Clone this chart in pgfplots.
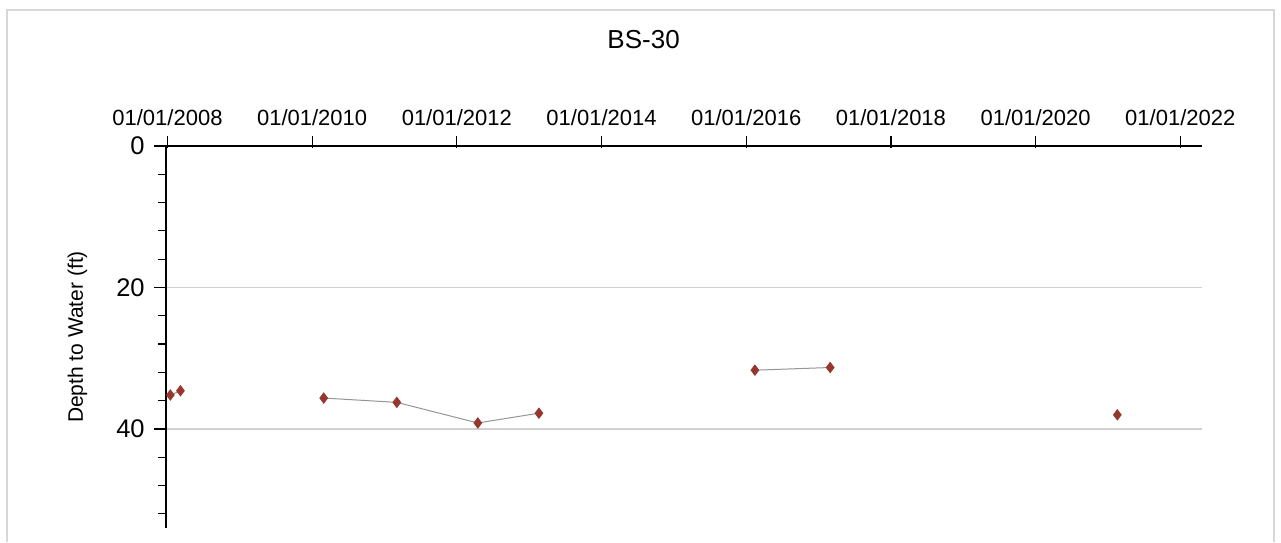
\documentclass[border=0pt]{standalone}
\usepackage{fontspec}
\setmainfont{Liberation Sans}
\usepackage{pgfplots}
\pgfplotsset{compat=1.18}
\definecolor{mk}{RGB}{150,55,45}
\definecolor{ln}{RGB}{150,150,150}
\definecolor{gr}{RGB}{208,208,208}
\definecolor{fr}{RGB}{215,215,215}
\begin{document}
\begin{tikzpicture}
\useasboundingbox (0,0) rectangle (640.5pt,271pt);
\fill[white] (0,0) rectangle (640.5pt,271pt);
\draw[fr, line width=1.2pt] (3.5pt,0) -- (3.5pt,266pt) -- (637pt,266pt) -- (637pt,0);
\begin{axis}[
  at={(83pt,7pt)}, anchor=south west,
  scale only axis, width=518pt, height=191pt,
  xmin=2007.98, xmax=2022.30, ymin=0, ymax=54,
  y dir=reverse,
  axis x line*=top, axis y line*=left,
  axis line style={black, line width=1.3pt},
  xtick={2008,2010,...,2022},
  xticklabels={01/01/2008,01/01/2010,01/01/2012,01/01/2014,01/01/2016,01/01/2018,01/01/2020,01/01/2022},
  xticklabel pos=upper,
  xtick align=inside,
  ytick align=outside,
  x tick style={black, line width=0.6pt, yshift=5pt},
  major tick length=6pt, minor tick length=4pt,
  ytick={0,20,40},
  minor ytick={4,8,12,16,24,28,32,36,44,48,52},
  y tick style={black, line width=0.6pt},
  ymajorgrids, major grid style={gr, line width=0.8pt},
  /pgf/number format/assume math mode=true,
  xticklabel style={font=\fontsize{11}{13}\selectfont, anchor=base, yshift=10.5pt},
  yticklabel style={font=\fontsize{12.75}{14}\selectfont, anchor=east, inner sep=0pt, xshift=-4.5pt},
  ylabel={Depth to Water (ft)},
  ylabel style={font=\fontsize{10.5}{12}\selectfont, at={(axis description cs:-0.0855,0.5)}, anchor=center, rotate=0},
  title={BS-30},
  title style={font=\fontsize{13}{15}\selectfont, at={(axis description cs:0.461,1)}, anchor=center, yshift=47pt},
  unbounded coords=jump,
  clip=false,
]
\addplot[ln, line width=0.5pt, mark=diamond*, mark size=2.5pt, mark options={fill=mk, draw=mk}] table {
x y
2008.04 35.2
2008.18 34.6
nan nan
2010.16 35.63
2011.17 36.24
2012.29 39.15
2013.135 37.77
nan nan
2016.12 31.69
2017.16 31.31
nan nan
2021.13 38.0
};
\end{axis}
\end{tikzpicture}
\end{document}
